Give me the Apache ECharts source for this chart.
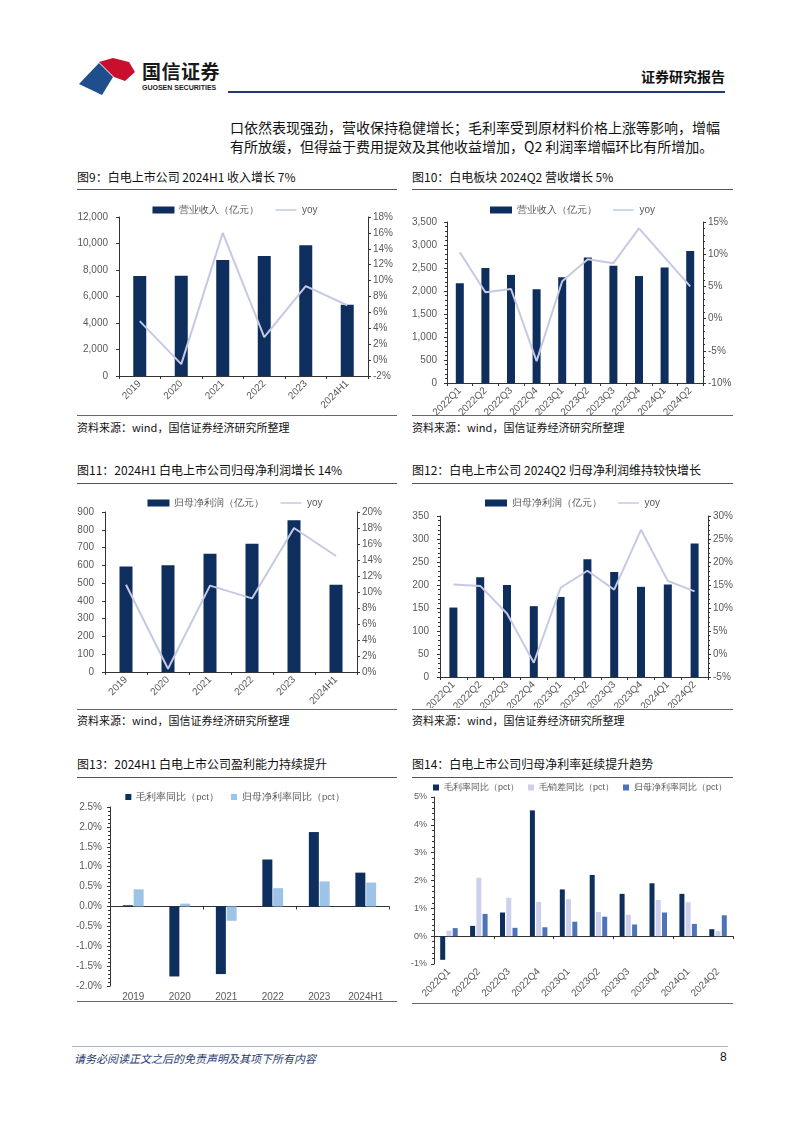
<!DOCTYPE html>
<html><head><meta charset="utf-8">
<script src="https://cdn.jsdelivr.net/npm/echarts/dist/echarts.min.js"></script>
<style>
html,body{margin:0;padding:0;background:#fff;}
#page{position:relative;width:802px;height:1133px;overflow:hidden;background:#fff;font-family:"Noto Sans CJK SC","Noto Sans",sans-serif;}
.abs{position:absolute;white-space:nowrap;}
.title{font-size:12px;color:#111;line-height:14px;}
.src{font-size:11px;color:#111;line-height:13px;}
.rule{position:absolute;height:0;border-top:1.5px solid #555;}
.chart{position:absolute;}
</style>
</head><body>
<div id="page">
  <svg class="abs" style="left:0;top:0" width="802" height="110">
    <polygon points="79,84 99,63 113,77 102,95" fill="#1f4e8c"/>
    <polygon points="99,62 113,58 129,62 135,72 125,81 114,77" fill="#c8102e"/>
  </svg>
  <div class="abs" style="left:142px;top:60px;font-size:19px;font-weight:bold;color:#1a1a1a;line-height:22px;letter-spacing:0.5px;">国信证券</div>
  <div class="abs" style="left:142px;top:84px;font-size:7px;font-weight:bold;color:#1a1a1a;line-height:8px;font-family:'Liberation Sans',sans-serif;">GUOSEN SECURITIES</div>
  <div class="abs" style="right:77px;top:67px;font-size:14px;font-weight:bold;color:#111;line-height:18px;">证券研究报告</div>
  <div class="abs" style="left:228px;top:91px;width:497px;height:0;border-top:2px solid #1f3b70;"></div>
  <div class="abs" style="left:230px;top:118px;font-size:14px;color:#111;line-height:19px;">口依然表现强劲，营收保持稳健增长；毛利率受到原材料价格上涨等影响，增幅<br>有所放缓，但得益于费用提效及其他收益增加，Q2 利润率增幅环比有所增加。</div>

  <div class="abs title" style="left:77px;top:170px;">图9：白电上市公司 2024H1 收入增长 7%</div>
  <div class="rule" style="left:77px;top:189px;width:320px;"></div>
  <div class="abs title" style="left:412px;top:170px;">图10：白电板块 2024Q2 营收增长 5%</div>
  <div class="rule" style="left:412px;top:189px;width:321px;"></div>
  <div class="rule" style="left:77px;top:415px;width:320px;border-top:1px solid #666;"></div>
  <div class="rule" style="left:412px;top:415px;width:321px;border-top:1px solid #666;"></div>
  <div class="abs src" style="left:77px;top:421px;">资料来源：wind，国信证券经济研究所整理</div>
  <div class="abs src" style="left:412px;top:421px;">资料来源：wind，国信证券经济研究所整理</div>

  <div class="abs title" style="left:77px;top:463px;">图11：2024H1 白电上市公司归母净利润增长 14%</div>
  <div class="rule" style="left:77px;top:483px;width:320px;"></div>
  <div class="abs title" style="left:412px;top:463px;">图12：白电上市公司 2024Q2 归母净利润维持较快增长</div>
  <div class="rule" style="left:412px;top:483px;width:321px;"></div>
  <div class="rule" style="left:77px;top:709px;width:320px;border-top:1px solid #666;"></div>
  <div class="rule" style="left:412px;top:709px;width:321px;border-top:1px solid #666;"></div>
  <div class="abs src" style="left:77px;top:714px;">资料来源：wind，国信证券经济研究所整理</div>
  <div class="abs src" style="left:412px;top:714px;">资料来源：wind，国信证券经济研究所整理</div>

  <div class="abs title" style="left:77px;top:757px;">图13：2024H1 白电上市公司盈利能力持续提升</div>
  <div class="rule" style="left:77px;top:777px;width:320px;"></div>
  <div class="abs title" style="left:412px;top:757px;">图14：白电上市公司归母净利率延续提升趋势</div>
  <div class="rule" style="left:412px;top:777px;width:321px;"></div>
  <div class="rule" style="left:77px;top:1001px;width:320px;border-top:1px solid #666;"></div>
  <div class="rule" style="left:412px;top:1003px;width:321px;border-top:1px solid #666;"></div>

  <div class="abs" style="left:72px;top:1046px;width:656px;height:0;border-top:1.5px solid #a9b6c9;"></div>
  <div class="abs" style="left:74px;top:1051px;font-size:11px;font-style:italic;color:#1f3b70;line-height:14px;">请务必阅读正文之后的免责声明及其项下所有内容</div>
  <div class="abs" style="left:720px;top:1050px;font-size:12px;color:#111;line-height:15px;font-family:'Liberation Sans',sans-serif;">8</div>

  <div id="c9" class="chart" style="left:70px;top:195px;width:330px;height:220px;"></div>
  <div id="c10" class="chart" style="left:405px;top:195px;width:335px;height:220px;"></div>
  <div id="c11" class="chart" style="left:70px;top:488px;width:330px;height:220px;"></div>
  <div id="c12" class="chart" style="left:405px;top:488px;width:335px;height:220px;"></div>
  <div id="c13" class="chart" style="left:70px;top:780px;width:330px;height:221px;"></div>
  <div id="c14" class="chart" style="left:405px;top:780px;width:335px;height:222px;"></div>
</div>
<script>
// ---- data ----
var years = ['2019','2020','2021','2022','2023','2024H1'];
var quarters = ['2022Q1','2022Q2','2022Q3','2022Q4','2023Q1','2023Q2','2023Q3','2023Q4','2024Q1','2024Q2'];
var revenue9 = [7550, 7560, 8750, 9060, 9860, 5380];
var revYoy9 = [4.9, -0.5, 16.0, 2.9, 9.3, 6.9];
var revenue10 = [2170, 2500, 2350, 2040, 2300, 2730, 2550, 2325, 2510, 2870];
var revYoy10 = [10.3, 4.1, 4.6, -6.6, 5.8, 9.2, 8.6, 14.0, 9.5, 5.0];
var profit11 = [594, 601, 665, 722, 853, 491];
var profitYoy11 = [10.9, 0.4, 10.8, 9.2, 18.0, 14.5];
var profit12 = [151, 217, 200, 154, 174, 256, 228, 196, 201, 290];
var profitYoy12 = [15.1, 14.8, 8.8, -1.9, 14.4, 18.1, 14.0, 27.0, 15.9, 13.6];
var grossChg13 = [0.03, -1.76, -1.70, 1.18, 1.87, 0.85];
var netChg13 = [0.43, 0.07, -0.36, 0.46, 0.63, 0.60];
var grossChg14 = [-0.85, 0.37, 0.85, 4.52, 1.68, 2.20, 1.52, 1.90, 1.52, 0.25];
var grossSalesChg14 = [0.20, 2.10, 1.38, 1.23, 1.33, 0.87, 0.77, 1.30, 1.22, 0.18];
var netChg14 = [0.29, 0.80, 0.30, 0.32, 0.52, 0.70, 0.42, 0.85, 0.44, 0.75];

var NAVY = '#0e2e5d', LAV = '#c6c9e4', LIGHTBLUE = '#9dc3e6', LAV2 = '#cdd0ec', MIDBLUE = '#4d73b8';
var AX = '#333', LBL = '#595959';
var FONT = 'Liberation Sans';
var LINE_ICON = 'path://M0,0H24V0.01H0Z M0,3.2H24V4.8H0Z M0,8H24V8.01H0Z';

function comma(v){ return String(v).replace(/\B(?=(\d{3})+(?!\d))/g, ','); }
function pct(v){ return v + '%'; }

function valAxis(min, max, interval, fmt, pos, margin, minor, fs){
  return {
    type:'value', min:min, max:max, interval:interval, position:pos,
    axisLine:{show:true, lineStyle:{color:AX, width:1}},
    axisTick:{show:true, length:3, lineStyle:{color:AX}},
    minorTick: minor ? {show:true, splitNumber:minor, length:2, lineStyle:{color:AX}} : {show:false},
    splitLine:{show:false},
    axisLabel:{formatter:fmt, color:LBL, fontSize:fs||10, fontFamily:FONT, margin:margin}
  };
}
function catAxis(data, rotate, margin){
  return {
    type:'category', data:data,
    axisLine:{show:true, onZero:true, onZeroAxisIndex:0, lineStyle:{color:AX, width:1}},
    axisTick:{show:true, length:3, lineStyle:{color:AX}},
    axisLabel:{rotate:rotate, color:LBL, fontSize:10, fontFamily:FONT, margin:margin, interval:0}
  };
}

function barLine(el, opt){
  var c = echarts.init(document.getElementById(el));
  c.setOption({
    animation:false,
    legend:{top:5, left:'center', itemWidth:22, itemHeight:7, itemGap:16,
      textStyle:{fontSize:10, color:LBL},
      data:[{name:opt.barName, icon:'rect'}, {name:'yoy', icon:LINE_ICON}]},
    grid:Object.assign({outerBoundsMode:'none', containLabel:false}, opt.grid),
    xAxis:catAxis(opt.cats, 45, 6),
    yAxis:[valAxis(opt.l[0], opt.l[1], opt.l[2], opt.lfmt, 'left', opt.lm, opt.minor),
           valAxis(opt.r[0], opt.r[1], opt.r[2], pct, 'right', 5, opt.minor)],
    series:[
      {type:'bar', name:opt.barName, data:opt.bars, barWidth:opt.bw, itemStyle:{color:NAVY}},
      {type:'line', name:'yoy', yAxisIndex:1, data:opt.line, symbol:'none', smooth:false,
       lineStyle:{color:LAV, width:2}, itemStyle:{color:LAV}}
    ]
  });
}

barLine('c9', {barName:'营业收入（亿元）', cats:years, bars:revenue9, line:revYoy9,
  grid:{left:49, right:32, top:22, bottom:39}, l:[0,12000,2000], lfmt:comma, lm:11, r:[-2,18,2], bw:13, minor:0});
barLine('c10', {barName:'营业收入（亿元）', cats:quarters, bars:revenue10, line:revYoy10,
  grid:{left:42, right:37, top:27, bottom:32}, l:[0,3500,500], lfmt:comma, lm:10, r:[-10,15,5], bw:8, minor:5});
barLine('c11', {barName:'归母净利润（亿元）', cats:years, bars:profit11, line:profitYoy11,
  grid:{left:35, right:43, top:24, bottom:36}, l:[0,900,100], lfmt:'{value}', lm:11, r:[0,20,2], bw:13, minor:0});
barLine('c12', {barName:'归母净利润（亿元）', cats:quarters, bars:profit12, line:profitYoy12,
  grid:{left:35, right:32, top:28, bottom:31}, l:[0,350,50], lfmt:'{value}', lm:11, r:[-5,30,5], bw:8, minor:5});

// chart 13
(function(){
  var c = echarts.init(document.getElementById('c13'));
  c.setOption({
    animation:false,
    legend:{top:7, left:'center', itemWidth:6, itemHeight:6, itemGap:12, icon:'rect',
      textStyle:{fontSize:9.5, color:LBL}},
    grid:{left:40, right:11, top:27, bottom:15, outerBoundsMode:'none', containLabel:false},
    xAxis:[
      {type:'category', data:years, position:'bottom', axisLine:{show:false, onZero:false}, axisTick:{show:false},
       axisLabel:{color:LBL, fontSize:10, fontFamily:FONT, margin:6, interval:0}},
      {type:'category', data:years, position:'top', axisLine:{show:true, onZero:true, onZeroAxisIndex:0, lineStyle:{color:AX}},
       axisTick:{show:true, inside:true, length:3, lineStyle:{color:AX}}, axisLabel:{show:false}}
    ],
    yAxis:valAxis(-2, 2.5, 0.5, function(v){return v.toFixed(1)+'%';}, 'left', 8, 5),
    series:[
      {type:'bar', name:'毛利率同比（pct）', data:grossChg13, barWidth:10, barGap:'8%', itemStyle:{color:NAVY}},
      {type:'bar', name:'归母净利率同比（pct）', data:netChg13, barWidth:10, barGap:'8%', itemStyle:{color:LIGHTBLUE}}
    ]
  });
})();

// chart 14
(function(){
  var c = echarts.init(document.getElementById('c14'));
  c.setOption({
    animation:false,
    legend:{top:3, left:28, width:320, padding:0, itemWidth:6, itemHeight:6, itemGap:9, icon:'rect',
      textStyle:{fontSize:9, color:LBL}},
    grid:{left:29, right:7, top:17, bottom:38, outerBoundsMode:'none', containLabel:false},
    xAxis:[
      {type:'category', data:quarters, position:'bottom', axisLine:{show:false, onZero:false}, axisTick:{show:false},
       axisLabel:{rotate:45, color:LBL, fontSize:10, fontFamily:FONT, margin:6, interval:0}},
      {type:'category', data:quarters, position:'top', axisLine:{show:true, onZero:true, onZeroAxisIndex:0, lineStyle:{color:AX}},
       axisTick:{show:true, inside:true, length:3, lineStyle:{color:AX}}, axisLabel:{show:false}}
    ],
    yAxis:valAxis(-1, 5, 1, pct, 'left', 7, 5, 9),
    series:[
      {type:'bar', name:'毛利率同比（pct）', data:grossChg14, barWidth:5, barGap:'25%', itemStyle:{color:NAVY}},
      {type:'bar', name:'毛销差同比（pct）', data:grossSalesChg14, barWidth:5, barGap:'25%', itemStyle:{color:LAV2}},
      {type:'bar', name:'归母净利率同比（pct）', data:netChg14, barWidth:5, barGap:'25%', itemStyle:{color:MIDBLUE}}
    ]
  });
})();
</script>
</body></html>
